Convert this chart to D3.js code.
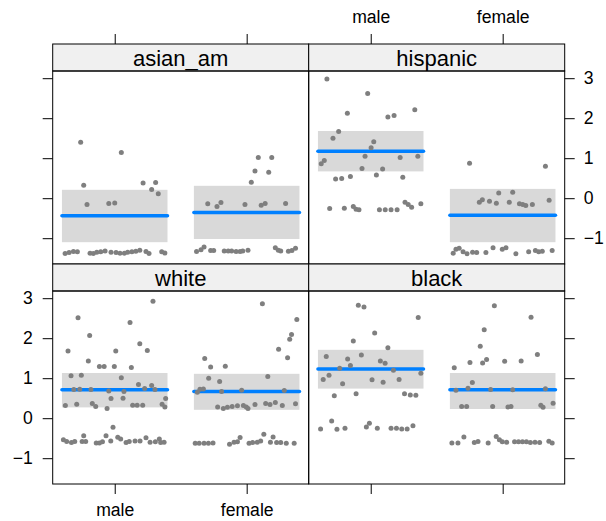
<!DOCTYPE html>
<html>
<head>
<meta charset="utf-8">
<script src="https://cdn.jsdelivr.net/npm/d3@7"></script>
<style>
  html, body { margin: 0; padding: 0; background: #fff; }
  svg text { font-family: "Liberation Sans", Arial, Helvetica, sans-serif; fill: #000; }
</style>
</head>
<body>
<svg id="chart" width="606" height="521"></svg>
<script>
// ---------- data ----------
const panelNames = ["asian_am", "hispanic", "white", "black"];
const genders = ["male", "female"];
const yTicks = [-1, 0, 1, 2, 3];

// fitted effect and confidence band per panel: [male, female]
const fitValues = [[-0.44, -0.36], [1.175, -0.425], [0.71, 0.67], [1.23, 0.71]];
const lowerCI  = [[-1.10, -1.02], [0.67, -1.10], [0.27, 0.21], [0.74, 0.23]];
const upperCI  = [[0.21, 0.31], [1.68, 0.233], [1.13, 1.11], [1.71, 1.13]];

// jittered points: [x position (1 = male, 2 = female), residual value]
const asianPts = [
  [0.742,1.40],[0.765,0.325],[0.79,-0.16],[0.955,-0.13],[1.0,-0.12],[1.05,1.14],[1.215,0.38],[1.31,0.39],[1.28,0.22],[1.33,0.11],
  [0.624,-1.38],[0.654,-1.36],[0.687,-1.33],[0.717,-1.34],[0.813,-1.375],[0.838,-1.38],[0.864,-1.35],[0.894,-1.34],[0.927,-1.32],
  [0.972,-1.35],[1.01,-1.36],[1.04,-1.375],[1.073,-1.375],[1.098,-1.35],[1.13,-1.34],[1.16,-1.325],[1.19,-1.30],[1.237,-1.33],
  [1.26,-1.38],[1.356,-1.34],[1.38,-1.37],
  [1.705,-0.14],[1.775,-0.21],[1.805,-0.11],[1.987,-0.16],[2.11,-0.175],[2.14,-0.13],[2.295,-0.13],[2.035,0.40],[2.063,0.68],
  [2.088,1.02],[2.19,1.02],[2.167,0.65],
  [1.62,-1.33],[1.654,-1.29],[1.677,-1.22],[1.727,-1.31],[1.75,-1.31],[1.83,-1.32],[1.86,-1.32],[1.886,-1.32],[1.92,-1.33],
  [1.95,-1.33],[1.97,-1.32],[2.01,-1.30],[2.217,-1.24],[2.24,-1.30],[2.258,-1.32],[2.316,-1.325],[2.343,-1.31],[2.37,-1.25]
];
const hispanicPts = [
  [0.668,2.98],[0.977,2.62],[0.823,2.125],[1.13,2.03],[1.177,2.07],[1.334,2.21],[0.757,1.67],[0.714,1.50],[1.023,1.41],[1.003,1.26],
  [0.957,1.05],[1.223,1.02],[1.357,1.05],[0.648,0.94],[0.625,0.86],[0.934,0.74],[1.09,0.73],[1.043,0.58],[1.243,0.525],[0.734,0.48],
  [0.78,0.49],[0.846,0.54],
  [0.689,-0.26],[0.80,-0.25],[0.868,-0.21],[0.889,-0.275],[0.911,-0.29],[1.066,-0.29],[1.11,-0.29],[1.154,-0.29],[1.2,-0.29],
  [1.26,-0.10],[1.284,-0.16],[1.31,-0.225],[1.38,-0.14],
  [1.749,0.875],[2.324,0.80],[1.97,0.133],[2.076,0.15],[1.823,-0.10],[1.846,-0.04],[1.9,-0.075],[1.952,-0.125],[2.05,-0.10],
  [2.127,-0.14],[2.152,-0.16],[2.175,-0.18],[2.225,-0.16],[2.352,-0.05],
  [1.625,-1.375],[1.646,-1.275],[1.67,-1.25],[1.7,-1.34],[1.73,-1.39],[1.772,-1.35],[1.803,-1.36],[1.873,-1.36],[1.927,-1.24],
  [1.997,-1.275],[2.025,-1.24],[2.1,-1.39],[2.197,-1.34],[2.248,-1.31],[2.273,-1.34],[2.3,-1.325],[2.375,-1.31]
];
const whitePts = [
  [1.29,2.925],[0.722,2.51],[0.81,2.07],[1.116,2.39],[1.19,1.86],[0.646,1.68],[1.008,1.68],[1.247,1.69],[0.80,1.43],[0.884,1.29],
  [0.92,1.29],[0.997,1.29],[1.126,1.27],[0.669,1.06],[0.747,1.075],[1.05,1.01],[0.69,0.72],[0.735,0.725],[0.82,0.72],[0.955,0.68],
  [1.07,0.67],[1.18,0.84],[1.227,0.74],[1.28,0.82],[1.305,0.72],[0.972,0.49],[1.063,0.50],[0.626,0.32],[0.712,0.35],[0.83,0.37],
  [0.856,0.29],[0.942,0.24],[1.136,0.325],[1.17,0.325],[1.212,0.325],[1.359,0.35],[1.386,0.49],[1.38,0.28],
  [0.987,-0.225],[0.934,-0.44],[0.765,-0.44],[1.023,-0.475],[1.045,-0.52],[0.97,-0.57],[0.611,-0.54],[0.636,-0.58],[0.672,-0.61],
  [0.697,-0.58],[0.753,-0.58],[0.78,-0.58],[0.86,-0.62],[0.884,-0.62],[0.907,-0.59],[1.086,-0.61],[1.11,-0.58],[1.154,-0.57],
  [1.192,-0.57],[1.237,-0.49],[1.268,-0.60],[1.308,-0.59],[1.338,-0.52],[1.348,-0.61],[1.374,-0.60],
  [2.119,2.86],[2.38,2.47],[2.34,2.09],[2.326,1.975],[2.242,1.725],[2.31,1.51],[1.682,1.49],[1.727,1.28],[1.838,1.30],[2.16,1.04],
  [1.712,1.00],[1.795,0.92],[1.626,0.65],[1.646,0.725],[1.672,0.73],[1.81,0.67],[1.962,0.70],[2.285,0.69],[1.78,0.28],[1.823,0.24],
  [1.854,0.275],[1.89,0.29],[1.93,0.31],[1.975,0.315],[1.997,0.28],[2.01,0.24],[2.063,0.34],[2.144,0.37],[2.177,0.34],[2.217,0.39],
  [2.27,0.315],[2.37,0.36],
  [1.61,-0.625],[1.64,-0.625],[1.677,-0.625],[1.71,-0.625],[1.745,-0.62],[1.87,-0.65],[1.904,-0.60],[1.93,-0.59],[1.95,-0.48],
  [2.018,-0.625],[2.045,-0.61],[2.08,-0.60],[2.106,-0.57],[2.13,-0.40],[2.18,-0.60],[2.2,-0.47],[2.227,-0.61],[2.258,-0.61],
  [2.3,-0.625],[2.36,-0.625]
];
const blackPts = [
  [0.906,2.825],[0.949,2.78],[1.36,2.52],[1.03,2.13],[0.868,1.93],[1.13,1.76],[0.663,1.54],[0.825,1.48],[0.929,1.58],[1.073,1.43],
  [1.109,1.375],[0.846,1.32],[0.765,1.25],[1.172,1.2],[0.684,1.075],[0.64,0.97],[1.01,0.96],[1.215,0.97],[1.38,1.125],[0.787,0.86],
  [1.094,0.9],[0.724,0.56],[0.889,0.61],[1.256,0.61],[1.3,0.58],[1.342,0.575],
  [0.62,-0.27],[0.704,-0.07],[0.744,-0.275],[0.805,-0.25],[0.967,-0.22],[0.99,-0.125],[1.05,-0.25],[1.154,-0.25],[1.195,-0.25],
  [1.235,-0.27],[1.276,-0.27],[1.32,-0.19],
  [1.937,2.81],[2.215,2.525],[1.86,2.21],[1.83,1.80],[2.263,1.59],[1.878,1.47],[1.848,1.38],[1.752,1.39],[2.015,1.425],[2.14,1.43],
  [1.633,1.26],[1.77,0.89],[1.737,0.75],[1.646,0.70],[1.909,0.72],[2.076,0.71],[2.324,0.735],[1.689,0.29],[1.727,0.29],[1.924,0.29],
  [2.04,0.28],[2.063,0.29],[2.289,0.325],[2.306,0.275],[2.382,0.375],
  [1.615,-0.62],[1.661,-0.62],[1.706,-0.47],[1.785,-0.61],[1.813,-0.58],[1.89,-0.62],[1.951,-0.46],[1.975,-0.54],[1.997,-0.59],
  [2.03,-0.60],[2.09,-0.59],[2.12,-0.59],[2.15,-0.59],[2.18,-0.59],[2.21,-0.61],[2.245,-0.60],[2.28,-0.61],[2.35,-0.575],[2.375,-0.62]
];
const panelPoints = [asianPts, hispanicPts, whitePts, blackPts];

// ---------- layout ----------
const svg = d3.select("#chart");
const originX = 52.7, originY = 44, panelW = 256, stripH = 27, dataH = 193;
const tickLen = 10;
const x = d3.scaleLinear().domain([0.53, 2.47]).range([0, panelW]);
const y = d3.scaleLinear().domain([-1.645, 3.18]).range([dataH, 0]);
const fmt = d => (d < 0 ? "\u2212" + Math.abs(d) : String(d));
const tickFont = "17.6px";

function styleAxis(a) {
  a.select(".domain").remove();
  a.selectAll(".tick line").attr("stroke", "#000");
  a.selectAll("text").style("font-size", tickFont).attr("fill", "#000")
    .style("font-family", '"Liberation Sans", Arial, Helvetica, sans-serif');
}

panelNames.forEach((name, i) => {
  const col = i % 2, row = Math.floor(i / 2);
  const px = originX + col * panelW;
  const py = originY + row * (stripH + dataH);
  const g = svg.append("g").attr("transform", `translate(${px},${py})`);

  // strip
  g.append("rect").attr("x", 0).attr("y", 0).attr("width", panelW).attr("height", stripH)
    .attr("fill", "#f0f0f0").attr("stroke", "#000").attr("stroke-width", 1);
  g.append("text").attr("x", panelW / 2).attr("y", 21.5).attr("text-anchor", "middle")
    .style("font-size", "22px").text(name);

  const d = g.append("g").attr("transform", `translate(0,${stripH})`);

  // confidence bands and fitted lines
  genders.forEach((gname, k) => {
    const c = k + 1;
    d.append("rect")
      .attr("x", x(c - 0.4)).attr("width", x(c + 0.4) - x(c - 0.4))
      .attr("y", y(upperCI[i][k])).attr("height", y(lowerCI[i][k]) - y(upperCI[i][k]))
      .attr("fill", "#d9d9d9");
    d.append("line")
      .attr("x1", x(c - 0.4)).attr("x2", x(c + 0.4))
      .attr("y1", y(fitValues[i][k])).attr("y2", y(fitValues[i][k]))
      .attr("stroke", "#0080ff").attr("stroke-width", 3.5).attr("stroke-linecap", "round");
  });

  // points
  d.selectAll("circle").data(panelPoints[i]).join("circle")
    .attr("cx", p => x(p[0])).attr("cy", p => y(p[1])).attr("r", 2.5)
    .attr("fill", "#7f7f7f");

  // panel frame
  d.append("rect").attr("x", 0).attr("y", 0).attr("width", panelW).attr("height", dataH)
    .attr("fill", "none").attr("stroke", "#000").attr("stroke-width", 1);

  // axes
  if (col === 0) {
    const ax = d3.axisLeft(y).tickValues(yTicks).tickSize(tickLen).tickPadding(10)
      .tickFormat(row === 1 ? fmt : () => "");
    styleAxis(d.append("g").call(ax));
  } else {
    const ax = d3.axisRight(y).tickValues(yTicks).tickSize(tickLen).tickPadding(9)
      .tickFormat(row === 0 ? fmt : () => "");
    styleAxis(d.append("g").attr("transform", `translate(${panelW},0)`).call(ax));
  }
  if (row === 0) {
    const ax = d3.axisTop(x).tickValues([1, 2]).tickSize(tickLen).tickPadding(11)
      .tickFormat(col === 1 ? (v => genders[v - 1]) : () => "");
    styleAxis(g.append("g").call(ax));
  } else {
    const ax = d3.axisBottom(x).tickValues([1, 2]).tickSize(tickLen).tickPadding(9.5)
      .tickFormat(col === 0 ? (v => genders[v - 1]) : () => "");
    styleAxis(d.append("g").attr("transform", `translate(0,${dataH})`).call(ax));
  }
});
</script>
</body>
</html>
